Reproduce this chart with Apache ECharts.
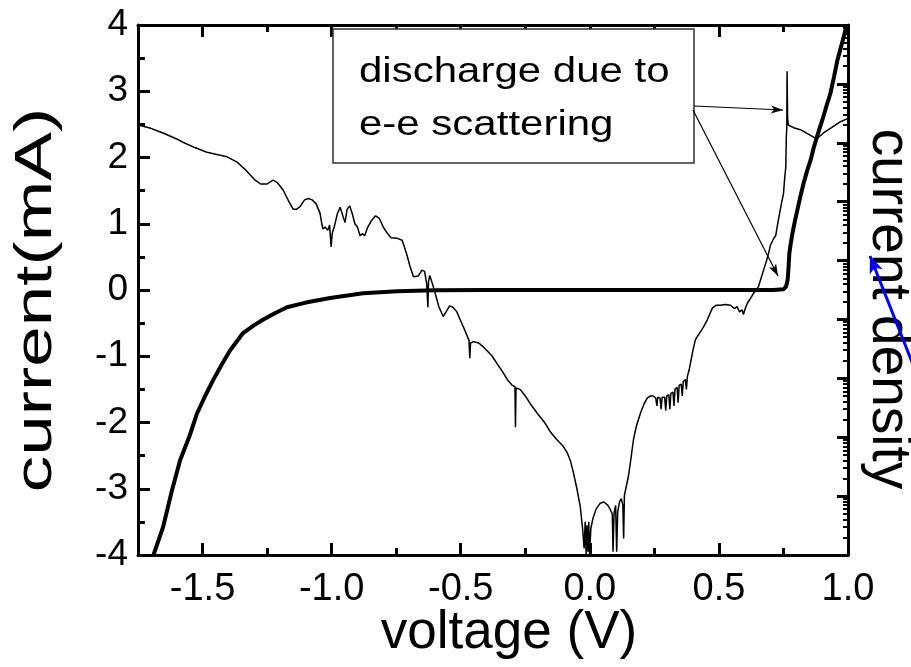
<!DOCTYPE html>
<html>
<head>
<meta charset="utf-8">
<script src="https://cdn.jsdelivr.net/npm/echarts@6/dist/echarts.min.js"></script>
<style>
  html, body { margin: 0; padding: 0; background: #fff; }
  #chart { width: 911px; height: 667px; }
</style>
</head>
<body>
<div id="chart"></div>
<script>
// Voltage axis ticks (V)
const voltageTicks = [-1.5, -1.0, -0.5, 0.0, 0.5, 1.0];
const voltageMinorTicks = [-1.25, -0.75, -0.25, 0.25, 0.75];

// Right-hand current density axis: decades and log-spaced minor ticks
const densityDecades = [0, 1, 2, 3, 4, 5, 6, 7, 8, 9];
const densityMinor = [];
for (let k = 0; k < 9; k++) {
  for (let m = 2; m <= 9; m++) densityMinor.push(k + Math.log10(m));
}

// I-V curve (V, mA) — thick trace
const ivCurve = [
  [-1.69, -4.0], [-1.653, -3.58], [-1.62, -3.05], [-1.587, -2.57], [-1.55, -2.2],
  [-1.521, -1.86], [-1.49, -1.6], [-1.459, -1.36], [-1.425, -1.12], [-1.393, -0.91],
  [-1.343, -0.65], [-1.30, -0.53], [-1.266, -0.45], [-1.22, -0.35], [-1.173, -0.26],
  [-1.1, -0.19], [-1.006, -0.12], [-0.878, -0.05], [-0.746, -0.02], [-0.6, -0.005],
  [-0.4, 0.0], [0.0, 0.0], [0.4, 0.0], [0.711, 0.0], [0.75, 0.01], [0.76, 0.05],
  [0.766, 0.15], [0.769, 0.3], [0.773, 0.56], [0.779, 0.72], [0.785, 0.86],
  [0.795, 1.05], [0.804, 1.21], [0.816, 1.42], [0.828, 1.61], [0.841, 1.79],
  [0.855, 1.96], [0.866, 2.13], [0.878, 2.29], [0.89, 2.44], [0.901, 2.57],
  [0.916, 2.77], [0.932, 2.97], [0.946, 3.22], [0.959, 3.47], [0.975, 3.7],
  [0.99, 3.92], [1.0, 4.0]
];

// Differential trace (V, plotted on the current scale) — thin trace
const diffCurve = [
  [-1.75, 2.49], [-1.70, 2.44], [-1.653, 2.37], [-1.60, 2.28], [-1.576, 2.23],
  [-1.53, 2.15], [-1.483, 2.08], [-1.44, 2.04], [-1.405, 2.01], [-1.366, 1.93],
  [-1.33, 1.8], [-1.30, 1.67], [-1.275, 1.6], [-1.25, 1.6], [-1.227, 1.66],
  [-1.21, 1.62], [-1.188, 1.51], [-1.165, 1.33], [-1.149, 1.22], [-1.135, 1.22],
  [-1.122, 1.26], [-1.105, 1.36], [-1.09, 1.38], [-1.075, 1.36], [-1.06, 1.3],
  [-1.045, 1.16], [-1.038, 1.0], [-1.033, 0.92], [-1.025, 0.95], [-1.015, 0.9],
  [-1.008, 0.98], [-1.002, 0.65], [-0.998, 0.85], [-0.99, 0.95], [-0.978, 1.15],
  [-0.967, 1.25], [-0.955, 1.1], [-0.948, 1.02], [-0.94, 1.22], [-0.93, 1.27],
  [-0.92, 1.15], [-0.91, 1.0], [-0.9, 0.95], [-0.89, 0.82], [-0.88, 0.85],
  [-0.872, 0.82], [-0.86, 0.95], [-0.845, 1.05], [-0.83, 1.12], [-0.815, 1.08],
  [-0.80, 0.95], [-0.785, 0.86], [-0.77, 0.79], [-0.745, 0.78], [-0.727, 0.75],
  [-0.71, 0.55], [-0.696, 0.35], [-0.683, 0.2], [-0.665, 0.21], [-0.65, 0.3],
  [-0.64, 0.28], [-0.632, 0.1], [-0.627, -0.26], [-0.625, 0.12], [-0.62, 0.22],
  [-0.61, 0.1], [-0.599, -0.05], [-0.585, -0.25], [-0.568, -0.4], [-0.555, -0.32],
  [-0.543, -0.24], [-0.53, -0.26], [-0.515, -0.33], [-0.502, -0.45], [-0.485, -0.6],
  [-0.468, -0.76], [-0.465, -1.03], [-0.462, -0.8], [-0.45, -0.78], [-0.43, -0.8],
  [-0.415, -0.85], [-0.397, -0.92], [-0.378, -1.0], [-0.358, -1.12], [-0.34, -1.22],
  [-0.32, -1.35], [-0.3, -1.44], [-0.29, -1.46], [-0.288, -2.07], [-0.286, -1.48],
  [-0.27, -1.5], [-0.25, -1.6], [-0.23, -1.72], [-0.2, -1.88], [-0.175, -2.0],
  [-0.153, -2.14], [-0.13, -2.25], [-0.105, -2.35], [-0.087, -2.46], [-0.075, -2.58],
  [-0.064, -2.75], [-0.05, -3.0], [-0.037, -3.27], [-0.028, -3.6], [-0.022, -3.9],
  [-0.018, -3.5], [-0.014, -4.0], [-0.011, -3.55], [-0.007, -3.95], [-0.004, -3.5],
  [-0.001, -4.0], [0.004, -3.6], [0.012, -3.45], [0.025, -3.3], [0.04, -3.22],
  [0.055, -3.2], [0.07, -3.25], [0.08, -3.32], [0.087, -3.38], [0.09, -3.95],
  [0.094, -3.36], [0.1, -3.25], [0.104, -3.95], [0.108, -3.35], [0.115, -3.2],
  [0.122, -3.15], [0.128, -3.25], [0.131, -3.75], [0.134, -3.1], [0.141, -2.97],
  [0.15, -2.8], [0.157, -2.61], [0.169, -2.26], [0.18, -2.06], [0.196, -1.86],
  [0.21, -1.72], [0.223, -1.63], [0.235, -1.6], [0.246, -1.6], [0.255, -1.63],
  [0.26, -1.75], [0.263, -1.62], [0.272, -1.63], [0.276, -1.8], [0.28, -1.62],
  [0.29, -1.62], [0.294, -1.82], [0.298, -1.6], [0.306, -1.58], [0.31, -1.8],
  [0.314, -1.56], [0.322, -1.54], [0.326, -1.75], [0.33, -1.5], [0.338, -1.47],
  [0.342, -1.7], [0.346, -1.44], [0.354, -1.42], [0.358, -1.6], [0.362, -1.38],
  [0.37, -1.35], [0.374, -1.5], [0.378, -1.3], [0.384, -1.22], [0.39, -1.1],
  [0.40, -0.9], [0.409, -0.75], [0.425, -0.65], [0.44, -0.56], [0.455, -0.45],
  [0.475, -0.27], [0.49, -0.23], [0.506, -0.23], [0.525, -0.22], [0.545, -0.23],
  [0.56, -0.28], [0.57, -0.25], [0.58, -0.33], [0.59, -0.3], [0.595, -0.37],
  [0.602, -0.28], [0.61, -0.2], [0.62, -0.14], [0.634, -0.05], [0.645, 0.0],
  [0.653, 0.05], [0.665, 0.2], [0.673, 0.3], [0.685, 0.45], [0.692, 0.55],
  [0.7, 0.68], [0.711, 0.77], [0.72, 0.82], [0.73, 1.05], [0.742, 1.3],
  [0.75, 1.45], [0.755, 1.7], [0.759, 1.85], [0.761, 2.3], [0.763, 2.45],
  [0.764, 3.3], [0.766, 2.6], [0.769, 2.49], [0.789, 2.45], [0.816, 2.42],
  [0.843, 2.36], [0.878, 2.28], [0.905, 2.37], [0.939, 2.46], [0.971, 2.54],
  [1.0, 2.59]
];

const FONT = "'Liberation Sans', Arial, Helvetica, sans-serif";
const AXIS_LINE = { show: true, onZero: false, lineStyle: { color: '#000', width: 3 } };
const NO_LINE = { show: false, onZero: false };

function arrowHead(tip, from, len, half) {
  const dx = tip[0] - from[0], dy = tip[1] - from[1];
  const d = Math.hypot(dx, dy), ux = dx / d, uy = dy / d;
  const bx = tip[0] - ux * len, by = tip[1] - uy * len;
  return [tip, [bx - uy * half, by + ux * half], [tip[0] - ux * len * 0.75, tip[1] - uy * len * 0.75], [bx + uy * half, by - ux * half]];
}

const chart = echarts.init(document.getElementById('chart'));

const xBase = { type: 'value', min: -1.75, max: 1.0, splitLine: { show: false } };
const yRight = { type: 'value', min: 0, max: 9, position: 'right', splitLine: { show: false }, axisLabel: { show: false } };
const majorTick = { show: true, inside: true, length: 12, lineStyle: { color: '#000', width: 3 } };
const minorTickX = { show: true, inside: true, length: 7, lineStyle: { color: '#000', width: 3 } };

// Annotation geometry (px)
const box = { x: 333, y: 29, w: 361, h: 134 };
const note1 = { from: [694, 106], to: [783, 110] };
const note2 = { from: [693, 110], to: [778, 276] };
const blue = { from: [935, 420], to: [870, 256] };

chart.setOption({
  animation: false,
  backgroundColor: '#fff',
  grid: { left: 138, right: 63, top: 25, bottom: 112, containLabel: false, outerBoundsMode: 'none' },
  xAxis: [
    Object.assign({}, xBase, {
      position: 'bottom',
      axisLine: AXIS_LINE,
      axisTick: Object.assign({ customValues: voltageTicks }, majorTick),
      axisLabel: { show: true, customValues: voltageTicks, margin: 16, color: '#000', fontSize: 38, fontFamily: FONT,
        formatter: v => v.toFixed(1) },
      name: 'voltage (V)', nameLocation: 'middle', nameGap: 52, nameMoveOverlap: false,
      nameTextStyle: { color: '#000', fontSize: 53, fontFamily: FONT, padding: [0, 0, 0, 32] }
    }),
    Object.assign({}, xBase, {
      position: 'bottom', axisLine: NO_LINE,
      axisTick: Object.assign({ customValues: voltageMinorTicks }, minorTickX),
      axisLabel: { show: false }
    }),
    Object.assign({}, xBase, {
      position: 'top', axisLine: AXIS_LINE,
      axisTick: Object.assign({ customValues: voltageTicks }, majorTick),
      axisLabel: { show: false }
    }),
    Object.assign({}, xBase, {
      position: 'top', axisLine: NO_LINE,
      axisTick: Object.assign({ customValues: voltageMinorTicks }, minorTickX),
      axisLabel: { show: false }
    })
  ],
  yAxis: [
    {
      type: 'value', min: -4, max: 4, interval: 1, position: 'left',
      splitLine: { show: false },
      axisLine: AXIS_LINE,
      axisTick: majorTick,
      minorTick: { show: true, splitNumber: 2, length: 7, lineStyle: { color: '#000', width: 3 } },
      axisLabel: { color: '#000', fontSize: 37, fontFamily: FONT, margin: 10 }
    },
    Object.assign({}, yRight, {
      axisLine: AXIS_LINE,
      axisTick: { show: true, inside: true, length: 11, lineStyle: { color: '#000', width: 3 }, customValues: densityDecades }
    }),
    Object.assign({}, yRight, {
      axisLine: NO_LINE,
      axisTick: { show: true, inside: true, length: 5, lineStyle: { color: '#000', width: 2 }, customValues: densityMinor }
    })
  ],
  series: [
    {
      name: 'dI/dV', type: 'line', data: diffCurve, showSymbol: false, clip: true,
      lineStyle: { color: '#000', width: 1.5 }, z: 2
    },
    {
      name: 'I-V', type: 'line', data: ivCurve, showSymbol: false, clip: true,
      lineStyle: { color: '#000', width: 4 }, z: 3
    }
  ],
  graphic: [
    // left axis title
    { type: 'text', x: 37, y: 300, rotation: Math.PI / 2, scaleX: 1.4,
      style: { text: 'current(mA)', fill: '#000', font: '52px ' + FONT, align: 'center', verticalAlign: 'middle' }, z: 5 },
    // right axis title
    { type: 'text', x: 888, y: 309, rotation: -Math.PI / 2,
      style: { text: 'current density', fill: '#000', font: '55px ' + FONT, align: 'center', verticalAlign: 'middle' }, z: 5 },
    // annotation box
    { type: 'rect', shape: { x: box.x, y: box.y, width: box.w, height: box.h },
      style: { fill: '#fff', stroke: '#333', lineWidth: 1.5 }, z: 10 },
    { type: 'text', x: 359, y: 72, scaleX: 1.2,
      style: { text: 'discharge due to', fill: '#000', font: '35px ' + FONT, align: 'left', verticalAlign: 'middle' }, z: 11 },
    { type: 'text', x: 359, y: 125, scaleX: 1.2,
      style: { text: 'e-e scattering', fill: '#000', font: '35px ' + FONT, align: 'left', verticalAlign: 'middle' }, z: 11 },
    { type: 'line', shape: { x1: note1.from[0], y1: note1.from[1], x2: note1.to[0], y2: note1.to[1] },
      style: { stroke: '#000', lineWidth: 1.2 }, z: 12 },
    { type: 'polygon', shape: { points: arrowHead(note1.to, note1.from, 12, 4) }, style: { fill: '#000' }, z: 12 },
    { type: 'line', shape: { x1: note2.from[0], y1: note2.from[1], x2: note2.to[0], y2: note2.to[1] },
      style: { stroke: '#000', lineWidth: 1.2 }, z: 12 },
    { type: 'polygon', shape: { points: arrowHead(note2.to, note2.from, 12, 4) }, style: { fill: '#000' }, z: 12 },
    // blue pointer
    { type: 'line', shape: { x1: blue.from[0], y1: blue.from[1], x2: blue.to[0], y2: blue.to[1] },
      style: { stroke: '#0000ff', lineWidth: 3 }, z: 13 },
    { type: 'polygon', shape: { points: arrowHead(blue.to, blue.from, 17, 7) }, style: { fill: '#0000ff' }, z: 13 }
  ]
});
</script>
</body>
</html>
